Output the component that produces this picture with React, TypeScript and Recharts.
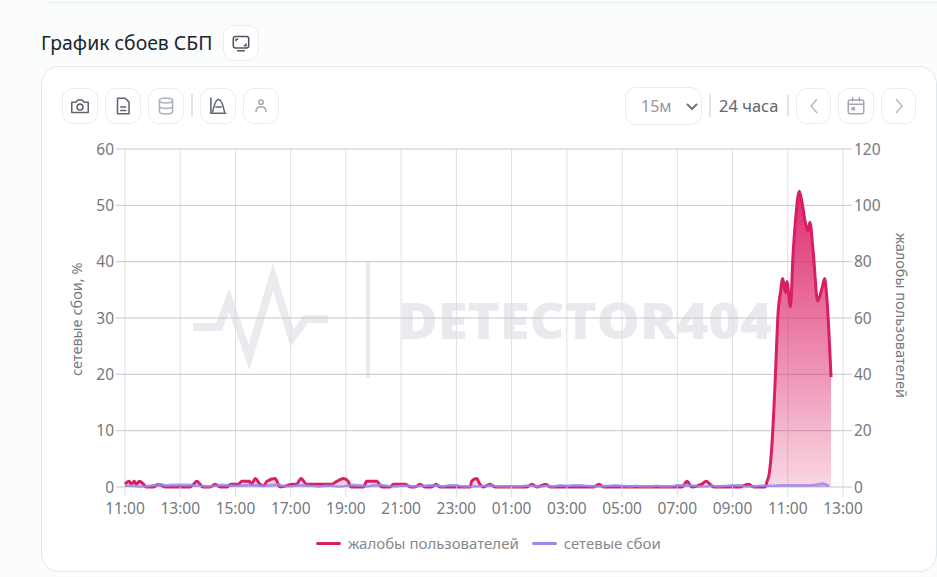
import { Area, CartesianGrid, ComposedChart, Legend, XAxis, YAxis } from 'recharts'

// minutes since 11:00
const complaintTimes = [
  0, 9, 14, 20, 25, 31, 40, 46, 62, 72, 87, 141, 149, 156, 163, 169, 185, 196, 207, 221, 230, 246, 254, 270, 275, 283,
  293, 302, 308, 326, 337, 366, 373, 382, 395, 420, 449, 460, 475, 485, 491, 518, 525, 547, 558, 576, 583, 592, 599,
  609, 620, 630, 641, 652, 666, 676, 684, 750, 753, 764, 771, 779, 793, 804, 873, 884, 895, 914, 924, 1018, 1030, 1040,
  1210, 1221, 1232, 1253, 1263, 1271, 1279, 1337, 1344, 1355, 1366, 1391, 1395, 1400, 1406, 1413, 1419, 1424, 1429,
  1435, 1438, 1446, 1451, 1457, 1465, 1471, 1478, 1484, 1488, 1495, 1505, 1515, 1520, 1524, 1534,
]
const complaintValues = [
  1, 2, 1, 2, 1, 2, 1, 0, 0, 1, 0, 0, 1, 2, 1, 0, 0, 1, 0, 0, 1, 1, 2, 2, 1, 3,
  1, 0.4, 2, 3, 0, 1, 1, 3, 1, 1, 1, 2, 3, 2, 0, 0, 2, 2, 0, 0, 1, 1, 1,
  1, 0, 0, 1, 0, 0, 1, 0, 0, 2, 3, 1, 0, 1, 0, 0, 1, 0, 1, 0, 0, 1, 0,
  0, 2, 0, 1, 2, 1, 0, 0, 0.5, 1, 0, 0, 2, 5, 16, 39, 62, 69, 74,
  69, 73, 64, 81, 95, 105, 101, 94, 91, 94, 84, 66, 71, 74, 69, 39,
]
// one value every 15 minutes
const networkValues = [
  0.2, 0.2, 0.1, 0.1, 0.3, 0.5, 0.3, 0.4, 0.4, 0.4, 0.3, 0.2, 0.1, 0.2, 0.4, 0.3, 0.2, 0.3, 0.4, 0.3, 0.2, 0.3, 0.5,
  0.2, 0.1, 0.3, 0.3, 0.2, 0.1, 0.2, 0.2, 0.1, 0.2, 0.4, 0.3, 0.1, 0.3, 0.4, 0.2, 0.1, 0.2, 0.2, 0.1, 0.2, 0.3, 0.3,
  0.1, 0.3, 0.3, 0.1, 0.1, 0.1, 0.2, 0.3, 0.1, 0.1, 0.1, 0.1, 0.2, 0.2, 0.1, 0.2, 0.1, 0.3, 0.2, 0.3, 0.3, 0.2, 0.1,
  0.1, 0.2, 0.3, 0.2, 0.1, 0.2, 0.1, 0.1, 0.2, 0.1, 0.1, 0.3, 0.3, 0.3, 0.1, 0.1, 0.2, 0.1, 0.2, 0.3, 0.3, 0.1, 0.1,
  0.2, 0.2, 0.2, 0.3, 0.3, 0.3, 0.3, 0.3, 0.4, 0.6, 0.2,
]
const xTicks = [0, 120, 240, 360, 480, 600, 720, 840, 960, 1080, 1200, 1320, 1440, 1560]
const xLabels = [
  '11:00', '13:00', '15:00', '17:00', '19:00', '21:00', '23:00',
  '01:00', '03:00', '05:00', '07:00', '09:00', '11:00', '13:00',
]
const leftTicks = [0, 10, 20, 30, 40, 50, 60]
const rightTicks = [0, 20, 40, 60, 80, 100, 120]

const networkTimes = networkValues.map((_, i) => i * 15)
const allTimes = Array.from(new Set([...complaintTimes, ...networkTimes])).sort((a, b) => a - b)
const chartData = allTimes.map((time) => {
  const c = complaintTimes.indexOf(time)
  const n = networkTimes.indexOf(time)
  return {
    time,
    complaints: c >= 0 ? complaintValues[c] : null,
    network: n >= 0 ? networkValues[n] : null,
  }
})

const FONT = '"Noto Sans", sans-serif'
const TICK = { fill: '#75797d', fontSize: 15.5, fontFamily: FONT }
const PINK = '#d81f63'
const PURPLE = '#9a86ee'

function IconButton({ x, y, w = 36, h = 36, children }: { x: number; y: number; w?: number; h?: number; children: any }) {
  return (
    <div
      style={{
        position: 'absolute', left: x, top: y, width: w, height: h, boxSizing: 'border-box',
        border: '1px solid #e9edef', borderRadius: 11, background: '#fff',
        display: 'flex', alignItems: 'center', justifyContent: 'center',
      }}
    >
      {children}
    </div>
  )
}

function Glyph({ color = '#5f6670', children }: { color?: string; children: any }) {
  return (
    <svg width="22" height="22" viewBox="0 0 20 20" fill="none" stroke={color} strokeWidth="1.4" strokeLinecap="round" strokeLinejoin="round">
      {children}
    </svg>
  )
}

function Divider({ x, y, h }: { x: number; y: number; h: number }) {
  return <div style={{ position: 'absolute', left: x, top: y, width: 2, height: h, background: '#e2e5e8' }} />
}

function Watermark() {
  return (
    <svg width="937" height="577" style={{ position: 'absolute', left: 0, top: 0 }}>
      <polyline
        points="193,327 219,327 229,300 249,357 273,277 292,338 306,319 328,319"
        fill="none"
        stroke="#e9ebef"
        strokeWidth="8"
      />
      <rect x="366" y="261" width="4" height="117" fill="#e9ebef" />
      <text
        x="398"
        y="339"
        fill="#e8eaee"
        fontFamily='"Open Sans", sans-serif'
        fontWeight="800"
        fontSize="50"
        textLength="374"
        lengthAdjust="spacingAndGlyphs"
      >
        DETECTOR404
      </text>
    </svg>
  )
}

function LegendContent({ payload }: any) {
  return (
    <div style={{ display: 'flex', paddingLeft: 316, alignItems: 'center', height: 30, fontFamily: FONT, fontSize: 15, color: '#85898e' }}>
      {(payload || []).map((p: any) => (
        <div key={p.value} style={{ display: 'flex', alignItems: 'center', marginRight: 13 }}>
          <span style={{ width: 25, height: 3, background: p.color, borderRadius: 2, marginRight: 7 }} />
          <span>{p.value}</span>
        </div>
      ))}
    </div>
  )
}

export default function App() {
  return (
    <div style={{ position: 'fixed', left: 0, top: 0, width: 937, height: 577, overflow: 'hidden', background: '#fbfdfd' }}>
      <div style={{ position: 'absolute', left: 50, top: -12, width: 900, height: 13, background: '#fff', boxShadow: '0 1px 5px rgba(150,190,190,0.25)' }} />
      <div style={{ position: 'absolute', left: 41, top: 30, fontFamily: FONT, fontSize: 19.4, color: '#1c2430', lineHeight: '26px', whiteSpace: 'nowrap' }}>
        График сбоев СБП
      </div>
      <IconButton x={223} y={25}>
        <Glyph color="#4d5560">
          <rect x="3" y="4" width="14" height="10.5" rx="2" />
          <path d="M7 17h6" />
          <path d="M5.5 8V6.5H7M14.5 11v1.5H13" />
        </Glyph>
      </IconButton>

      <div style={{ position: 'absolute', left: 41, top: 66, width: 896, height: 506, boxSizing: 'border-box', border: '1px solid #dfe7ea', borderRadius: 18, background: '#fff' }} />

      <IconButton x={62} y={88}>
        <Glyph>
          <path d="M2.5 6.5h4L8 4.5h4l1.5 2h4V16h-15z" />
          <circle cx="10" cy="11" r="2.7" />
        </Glyph>
      </IconButton>
      <IconButton x={105} y={88}>
        <Glyph>
          <path d="M5 3h7l3.5 3.5V17H5z" />
          <path d="M8 11h4.5M8 14h4.5" />
        </Glyph>
      </IconButton>
      <IconButton x={148} y={88}>
        <Glyph color="#aeb3b9">
          <ellipse cx="10" cy="5" rx="6" ry="2.2" />
          <path d="M4 5v10c0 1.2 2.7 2.2 6 2.2s6-1 6-2.2V5M4 10c0 1.2 2.7 2.2 6 2.2s6-1 6-2.2" />
        </Glyph>
      </IconButton>
      <Divider x={191} y={94} h={23} />
      <IconButton x={200} y={88}>
        <Glyph>
          <path d="M3.5 3v13.5H17" />
          <path d="M5 15.5C7 6 9 4 10.5 4S14 6 16 15.5" />
          <path d="M8 11h5" />
        </Glyph>
      </IconButton>
      <IconButton x={243} y={88}>
        <Glyph color="#a3a8ae">
          <circle cx="10" cy="6.5" r="2" />
          <path d="M5.5 15c0-3 2-4.3 4.5-4.3s4.5 1.3 4.5 4.3" />
        </Glyph>
      </IconButton>

      <IconButton x={625} y={87} w={77} h={38}>
        <span style={{ position: 'absolute', left: 15, top: 7, fontFamily: FONT, fontSize: 16, lineHeight: '22px', color: '#93979c' }}>15м</span>
        <svg style={{ position: 'absolute', left: 60, top: 15 }} width="12" height="8" viewBox="0 0 12 8" fill="none" stroke="#70767d" strokeWidth="2" strokeLinecap="round" strokeLinejoin="round">
          <path d="M1.5 1.5 6 6l4.5-4.5" />
        </svg>
      </IconButton>
      <Divider x={709} y={94} h={23} />
      <div style={{ position: 'absolute', left: 719, top: 95, fontFamily: FONT, fontSize: 16.5, color: '#5f6670', lineHeight: '22px', whiteSpace: 'nowrap' }}>24 часа</div>
      <Divider x={787} y={95} h={21} />
      <IconButton x={796} y={88} w={35}>
        <svg width="12" height="18" viewBox="0 0 12 18" fill="none" stroke="#b5b9be" strokeWidth="1.4"><path d="M9 2 3 9l6 7" /></svg>
      </IconButton>
      <IconButton x={838} y={88}>
        <Glyph color="#a3a8ae">
          <rect x="3" y="4.5" width="14" height="12.5" rx="1.5" />
          <path d="M3 8.5h14M7 2.5v3M13 2.5v3M6.5 11.5h2v2h-2z" />
        </Glyph>
      </IconButton>
      <IconButton x={881} y={88} w={35}>
        <svg width="12" height="18" viewBox="0 0 12 18" fill="none" stroke="#b5b9be" strokeWidth="1.4"><path d="M3 2l6 7-6 7" /></svg>
      </IconButton>

      <Watermark />

      <div style={{ position: 'absolute', left: 0, top: 0 }}>
        <ComposedChart width={937} height={577} data={chartData} margin={{ top: 149, right: 0, bottom: 30, left: 0 }}>
          <defs>
            <linearGradient id="complaintsFill" x1="0" y1="0" x2="0" y2="1">
              <stop offset="0%" stopColor="#dc2268" stopOpacity={0.95} />
              <stop offset="100%" stopColor="#dc2268" stopOpacity={0.18} />
            </linearGradient>
          </defs>
          <CartesianGrid yAxisId="left" horizontal={false} stroke="#dddfe1" />
          <CartesianGrid yAxisId="left" vertical={false} stroke="#c5c7c9" />
          <XAxis
            dataKey="time"
            type="number"
            domain={[0, 1560]}
            ticks={xTicks}
            interval={0}
            tickFormatter={(v: number) => xLabels[xTicks.indexOf(v)]}
            tick={{ ...TICK, dy: 4 }}
            tickLine={{ stroke: '#dddfe1' }}
            tickSize={10}
            axisLine={false}
            height={30}
          />
          <YAxis
            yAxisId="left"
            width={125}
            domain={[0, 60]}
            ticks={leftTicks}
            interval={0}
            tick={TICK}
            tickLine={{ stroke: '#c5c7c9' }}
            tickSize={9}
            axisLine={false}
            label={{ value: 'сетевые сбои, %', angle: -90, position: 'insideLeft', dx: 72, dy: 58, style: { fill: '#75797d', fontSize: 14.5, fontFamily: FONT } }}
          />
          <YAxis
            yAxisId="right"
            orientation="right"
            width={94}
            domain={[0, 120]}
            ticks={rightTicks}
            interval={0}
            tick={TICK}
            tickLine={{ stroke: '#c5c7c9' }}
            tickSize={9}
            axisLine={false}
            label={{ value: 'жалобы пользователей', angle: 90, position: 'insideRight', dx: -31, dy: 80, style: { fill: '#75797d', fontSize: 14.5, fontFamily: FONT } }}
          />
          <Legend
            verticalAlign="bottom"
            height={30}
            content={<LegendContent />}
            wrapperStyle={{ left: 0, width: 937, bottom: 19 }}
          />
          <Area
            yAxisId="right"
            name="жалобы пользователей"
            dataKey="complaints"
            type="monotone"
            stroke={PINK}
            strokeWidth={3}
            fill="url(#complaintsFill)"
            fillOpacity={1}
            connectNulls
            dot={false}
            activeDot={false}
            isAnimationActive={false}
          />
          <Area
            yAxisId="left"
            name="сетевые сбои"
            dataKey="network"
            type="monotone"
            stroke={PURPLE}
            strokeWidth={2.5}
            strokeOpacity={0.8}
            fill={PURPLE}
            fillOpacity={0.45}
            connectNulls
            dot={false}
            activeDot={false}
            isAnimationActive={false}
          />
        </ComposedChart>
      </div>
    </div>
  )
}
